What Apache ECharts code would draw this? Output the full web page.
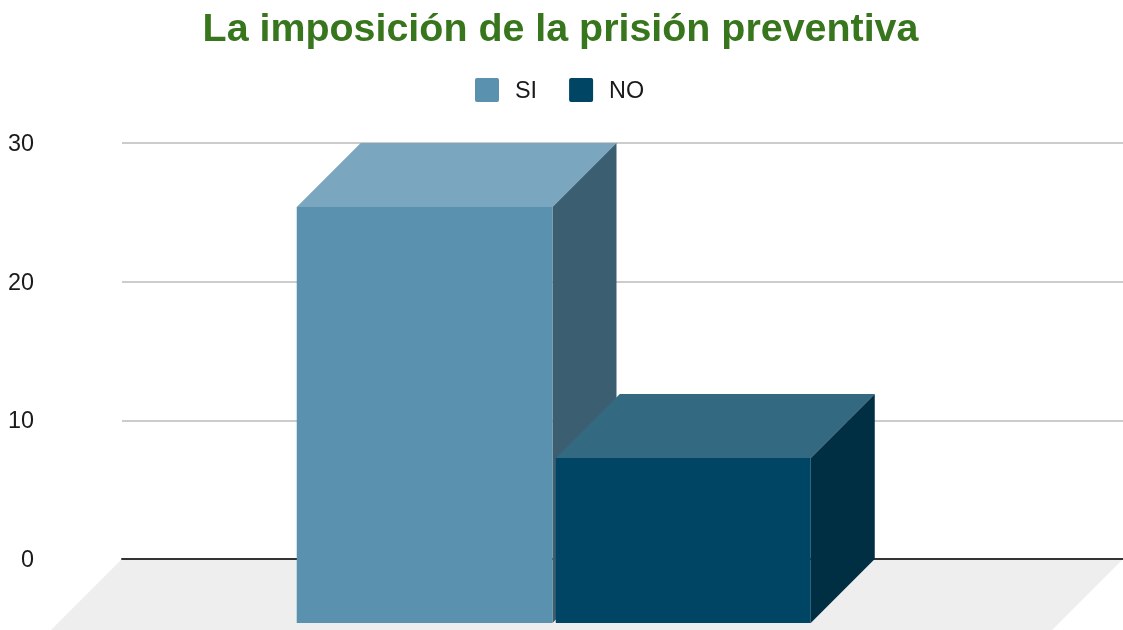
<!DOCTYPE html>
<html>
<head>
<meta charset="utf-8">
<title>La imposición de la prisión preventiva</title>
<script src="https://cdn.jsdelivr.net/npm/echarts@6/dist/echarts.min.js"></script>
<style>
  html, body { margin: 0; padding: 0; background: #fff; }
  #main { width: 1123px; height: 630px; }
</style>
</head>
<body>
<div id="main"></div>
<script>
  var categories = ['La imposición de la prisión preventiva'];
  var siValues = [30];
  var noValues = [11.9];
  var yTicks = [0, 10, 20, 30];

  // depth of the fake 3d box, px
  var DEPTH = 64;
  var FONT = '"Liberation Sans", Arial, sans-serif';

  // one box: left offset and width are shares of the category band
  function boxRenderer(slotOffset, barShare, colors) {
    return function (params, api) {
      var top = api.coord([api.value(0), api.value(1)]);
      var base = api.coord([api.value(0), 0]);
      var band = api.size([1, 0])[0];
      var x0 = top[0] + slotOffset * band;
      var w = barShare * band;
      var y1 = top[1], y0 = base[1];
      return {
        type: 'group',
        children: [
          // top
          { type: 'polygon', shape: { points: [[x0 - DEPTH, y1 + DEPTH], [x0, y1], [x0 + w, y1], [x0 + w - DEPTH, y1 + DEPTH]] }, style: { fill: colors.top } },
          // side
          { type: 'polygon', shape: { points: [[x0 + w - DEPTH, y1 + DEPTH], [x0 + w, y1], [x0 + w, y0], [x0 + w - DEPTH, y0 + DEPTH]] }, style: { fill: colors.side } },
          // front
          { type: 'rect', shape: { x: x0 - DEPTH, y: y1 + DEPTH, width: w, height: y0 - y1 }, style: { fill: colors.front } }
        ]
      };
    };
  }

  function floorRenderer(params, api) {
    var cs = params.coordSys;
    var y0 = api.coord([0, 0])[1];
    var d = DEPTH + 8;
    return {
      type: 'polygon',
      shape: { points: [[cs.x, y0], [cs.x + cs.width, y0], [cs.x + cs.width - d, y0 + d], [cs.x - d, y0 + d]] },
      style: { fill: '#eeeeee' }
    };
  }

  var myChart = echarts.init(document.getElementById('main'), null, { renderer: 'canvas' });
  myChart.setOption({
    animation: false,
    backgroundColor: '#ffffff',
    title: {
      text: categories[0],
      left: 555.5,
      top: 6,
      textAlign: 'center',
      textStyle: { color: '#38761d', fontFamily: FONT, fontWeight: 'bold', fontSize: 39.4 }
    },
    legend: {
      data: ['SI', 'NO'],
      left: 475,
      top: 78,
      // icon box is 28 tall, swatch fills the top 24, so the label sits 2px lower
      icon: 'path://M2 0H22A2 2 0 0 1 24 2V22A2 2 0 0 1 22 24H2A2 2 0 0 1 0 22V2A2 2 0 0 1 2 0ZM0 28h0.01Z',
      itemWidth: 24,
      itemHeight: 28,
      itemGap: 32,
      padding: 0,
      textStyle: { color: '#1a1a1a', fontFamily: FONT, fontSize: 23.4, padding: [0, 0, 0, 11] }
    },
    grid: { left: 122, right: -2, top: 143, bottom: 71 },
    xAxis: {
      type: 'category',
      data: categories,
      z: 1,
      axisLine: { lineStyle: { color: '#333333', width: 2 } },
      axisTick: { show: false },
      axisLabel: { show: false }
    },
    yAxis: {
      type: 'value',
      min: yTicks[0],
      max: yTicks[yTicks.length - 1],
      interval: yTicks[1] - yTicks[0],
      axisLine: { show: false },
      axisTick: { show: false },
      axisLabel: { color: '#1a1a1a', fontFamily: FONT, fontSize: 23.4, margin: 88, verticalAlign: 'top', padding: [-10, 0, 0, 0] },
      splitLine: { lineStyle: { color: '#cccccc', width: 2 } }
    },
    series: [{
      name: 'floor',
      type: 'custom',
      z: 0,
      silent: true,
      renderItem: floorRenderer,
      data: [[0, 0]]
    }, {
      name: 'SI',
      type: 'custom',
      z: 2,
      itemStyle: { color: '#5a91af' },
      renderItem: boxRenderer(-0.2615, 0.2555, { front: '#5a91af', top: '#7aa7bf', side: '#3b5e71' }),
      encode: { x: 0, y: 1 },
      data: siValues.map(function (v, i) { return [i, v]; })
    }, {
      name: 'NO',
      type: 'custom',
      z: 3,
      itemStyle: { color: '#004563' },
      renderItem: boxRenderer(-0.0027, 0.2547, { front: '#004563', top: '#336a82', side: '#002f43' }),
      encode: { x: 0, y: 1 },
      data: noValues.map(function (v, i) { return [i, v]; })
    }]
  });

  window.addEventListener('resize', function () {
    myChart.resize();
  });
</script>
</body>
</html>
